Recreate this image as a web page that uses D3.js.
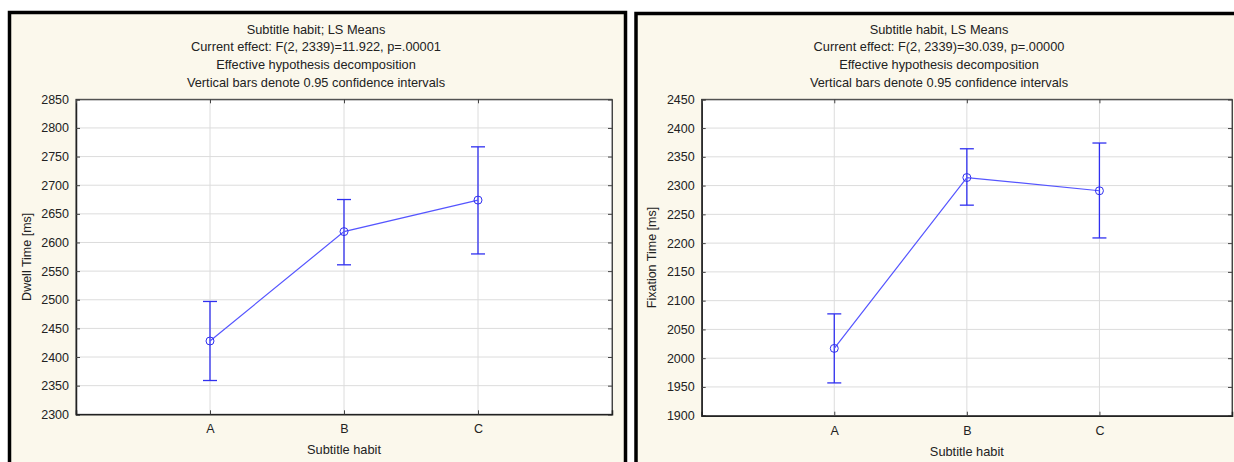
<!DOCTYPE html>
<html>
<head>
<meta charset="utf-8">
<script src="https://cdn.jsdelivr.net/npm/d3@7/dist/d3.min.js"></script>
<style>
  html, body { margin: 0; padding: 0; background: #ffffff; }
  svg { display: block; }
  text { font-family: "Liberation Sans", Arial, sans-serif; fill: #222; }
</style>
</head>
<body>
<svg id="chart" width="1234" height="462"></svg>
<script>
const categories = ["A", "B", "C"];

const dwellMean = [2428, 2619, 2674];
const dwellLow  = [2359, 2561, 2580];
const dwellHigh = [2497, 2675, 2767];
const dwellTicks = [2300, 2350, 2400, 2450, 2500, 2550, 2600, 2650, 2700, 2750, 2800, 2850];
const dwellTitle = [
  "Subtitle habit; LS Means",
  "Current effect: F(2, 2339)=11.922, p=.00001",
  "Effective hypothesis decomposition",
  "Vertical bars denote 0.95 confidence intervals"
];

const fixMean = [2017, 2314, 2291];
const fixLow  = [1957, 2266, 2209];
const fixHigh = [2077, 2364, 2374];
const fixTicks = [1900, 1950, 2000, 2050, 2100, 2150, 2200, 2250, 2300, 2350, 2400, 2450];
const fixTitle = [
  "Subtitle habit, LS Means",
  "Current effect: F(2, 2339)=30.039, p=.00000",
  "Effective hypothesis decomposition",
  "Vertical bars denote 0.95 confidence intervals"
];

const svg = d3.select("#chart");

function panel(cfg) {
  const g = svg.append("g");
  g.append("rect")
    .attr("x", cfg.px).attr("y", cfg.py)
    .attr("width", cfg.pw).attr("height", cfg.ph)
    .attr("fill", "#fbf8ec")
    .attr("stroke", "#000").attr("stroke-width", 3.5);

  cfg.title.forEach((t, i) => {
    g.append("text")
      .attr("x", cfg.titleX).attr("y", 33.5 + i * 17.7)
      .attr("text-anchor", "middle")
      .attr("font-size", "12.8px")
      .text(t);
  });

  const x = d3.scaleLinear().domain([0, categories.length + 1]).range([cfg.x0, cfg.x1]);
  const y = d3.scaleLinear().domain([cfg.ticks[0], cfg.ticks[cfg.ticks.length - 1]]).range([cfg.y1, cfg.y0]);

  g.append("rect")
    .attr("x", cfg.x0).attr("y", cfg.y0)
    .attr("width", cfg.x1 - cfg.x0).attr("height", cfg.y1 - cfg.y0)
    .attr("fill", "#ffffff");

  g.append("g").selectAll("line.h").data(cfg.ticks.slice(1, -1)).join("line")
    .attr("x1", cfg.x0).attr("x2", cfg.x1)
    .attr("y1", d => y(d)).attr("y2", d => y(d))
    .attr("stroke", "#dcdcdc").attr("stroke-width", 1);
  g.append("g").selectAll("line.v").data(categories).join("line")
    .attr("x1", (d, i) => x(i + 1)).attr("x2", (d, i) => x(i + 1))
    .attr("y1", cfg.y0).attr("y2", cfg.y1)
    .attr("stroke", "#dcdcdc").attr("stroke-width", 1);

  g.append("rect")
    .attr("x", cfg.x0).attr("y", cfg.y0)
    .attr("width", cfg.x1 - cfg.x0).attr("height", cfg.y1 - cfg.y0)
    .attr("fill", "none").attr("stroke", "#555").attr("stroke-width", 1);

  const yAxis = d3.axisLeft(y).tickValues(cfg.ticks).tickSize(-4).tickPadding(7).tickFormat(d3.format("d"));
  const ya = g.append("g").attr("transform", `translate(${cfg.x0},0)`).call(yAxis);
  ya.select(".domain").attr("stroke", "#222").attr("stroke-width", 1.5);
  ya.selectAll(".tick line").attr("stroke", "#444");
  ya.selectAll(".tick text").attr("font-size", "12.5px").attr("fill", "#222")
    .attr("font-family", '"Liberation Sans", Arial, sans-serif');

  const yR = d3.axisRight(y).tickValues(cfg.ticks).tickSize(-4).tickFormat("");
  const yr = g.append("g").attr("transform", `translate(${cfg.x1},0)`).call(yR);
  yr.select(".domain").attr("stroke", "#444");
  yr.selectAll(".tick line").attr("stroke", "#444");

  const xAxis = d3.axisBottom(x).tickValues([1, 2, 3]).tickSize(-4).tickPadding(10)
    .tickFormat(d => categories[d - 1]);
  const xa = g.append("g").attr("transform", `translate(0,${cfg.y1})`).call(xAxis);
  xa.select(".domain").attr("stroke", "#222").attr("stroke-width", 1.5);
  xa.selectAll(".tick line").attr("stroke", "#444");
  xa.selectAll(".tick text").attr("font-size", "12.5px").attr("fill", "#222")
    .attr("font-family", '"Liberation Sans", Arial, sans-serif');

  const xT = d3.axisTop(x).tickValues([1, 2, 3]).tickSize(-4).tickFormat("");
  const xt = g.append("g").attr("transform", `translate(0,${cfg.y0})`).call(xT);
  xt.select(".domain").attr("stroke", "#444");
  xt.selectAll(".tick line").attr("stroke", "#444");

  g.append("text")
    .attr("transform", `translate(${cfg.ylabX},${(cfg.y0 + cfg.y1) / 2}) rotate(-90)`)
    .attr("text-anchor", "middle").attr("dominant-baseline", "central")
    .attr("font-size", "12.5px")
    .text(cfg.ylabel);
  g.append("text")
    .attr("x", (cfg.x0 + cfg.x1) / 2).attr("y", cfg.y1 + 40)
    .attr("text-anchor", "middle")
    .attr("font-size", "12.8px")
    .text("Subtitle habit");

  const blue = "#3030f0";
  const eb = g.append("g");
  categories.forEach((c, i) => {
    const cx = x(i + 1);
    eb.append("line").attr("x1", cx).attr("x2", cx)
      .attr("y1", y(cfg.low[i])).attr("y2", y(cfg.high[i]))
      .attr("stroke", blue).attr("stroke-width", 1.3);
    [cfg.low[i], cfg.high[i]].forEach(v => {
      eb.append("line").attr("x1", cx - 7).attr("x2", cx + 7)
        .attr("y1", y(v)).attr("y2", y(v))
        .attr("stroke", blue).attr("stroke-width", 1.3);
    });
  });

  const line = d3.line().x((d, i) => x(i + 1)).y(d => y(d));
  g.append("path").datum(cfg.mean)
    .attr("d", line).attr("fill", "none")
    .attr("stroke", "#5555ff").attr("stroke-width", 1.2);

  g.append("g").selectAll("circle").data(cfg.mean).join("circle")
    .attr("cx", (d, i) => x(i + 1)).attr("cy", d => y(d)).attr("r", 4)
    .attr("fill", "none").attr("stroke", blue).attr("stroke-width", 1);
}

panel({
  px: 9.5, py: 12.5, pw: 616, ph: 470,
  titleX: 316,
  x0: 76, x1: 612, y0: 99.3, y1: 414.3,
  ticks: dwellTicks, mean: dwellMean, low: dwellLow, high: dwellHigh,
  ylabel: "Dwell Time [ms]", ylabX: 27,
  title: dwellTitle
});

panel({
  px: 636, py: 13.5, pw: 620, ph: 470,
  titleX: 939,
  x0: 701.7, x1: 1232, y0: 99.3, y1: 415.7,
  ticks: fixTicks, mean: fixMean, low: fixLow, high: fixHigh,
  ylabel: "Fixation Time [ms]", ylabX: 652,
  title: fixTitle
});
</script>
</body>
</html>
